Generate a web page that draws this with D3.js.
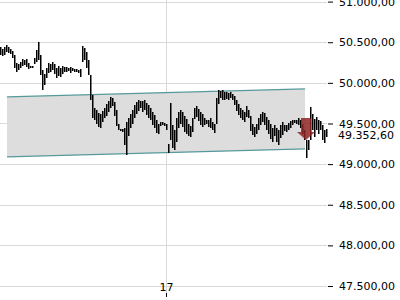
<!DOCTYPE html>
<html>
<head>
<meta charset="utf-8">
<script src="https://cdn.jsdelivr.net/npm/d3@7"></script>
<style>
  body { margin: 0; background: #fff; }
  svg { display: block; font-family: "DejaVu Sans", sans-serif; }
</style>
</head>
<body>
<div id="chart"></div>
<script>
// 10-minute bars, first bar 16.01. 10:10
var barStart = new Date(2024, 0, 16, 10, 10);
var barMinutes = 10;

var highs = [50442,50417,50442,50467,50442,50417,50393,50343,50245,50233,50257,50294,50282,50294,50245,50208,50208,50307,50405,50503,
  50343,50159,50110,50184,50245,50233,50257,50233,50184,50208,50184,50208,50196,50196,50184,50196,50184,50171,50171,50159,
  50171,50454,50430,50380,50282,50097,49851,49692,49667,49630,49618,49655,49692,49741,49778,49827,49815,49765,49667,49495,
  49433,49433,49446,49519,49569,49618,49667,49728,49765,49790,49778,49778,49790,49753,49728,49692,49642,49605,49544,49495,
  49519,49519,49507,49495,49249,49753,49482,49421,49569,49642,49667,49642,49593,49556,49495,49470,49569,49692,49716,49679,
  49642,49618,49569,49544,49544,49569,49519,49495,49815,49913,49901,49913,49888,49888,49876,49888,49864,49839,49790,49741,
  49692,49667,49642,49716,49667,49593,49495,49458,49495,49569,49618,49642,49630,49581,49544,49495,49446,49482,49446,49421,
  49482,49519,49482,49482,49507,49532,49544,49544,49544,49569,49544,49495,49421,49298,49298,49704,49618,49556,49581,49544,
  49532,49482,49421,49433];
var lows = [50343,50331,50343,50380,50368,50356,50307,50184,50134,50159,50184,50208,50220,50196,50171,50184,50184,50233,50257,50282,
  50097,49913,49974,50061,50122,50134,50159,50110,50061,50085,50073,50110,50134,50134,50147,50122,50147,50134,50134,50122,
  50073,50257,50282,50184,50097,49790,49569,49544,49495,49458,49446,49519,49569,49593,49642,49692,49716,49593,49470,49421,
  49409,49396,49236,49113,49347,49446,49495,49569,49618,49655,49692,49642,49667,49605,49569,49544,49482,49446,49384,49372,
  49470,49482,49470,49421,49138,49298,49200,49175,49273,49446,49495,49458,49396,49372,49347,49335,49396,49556,49581,49532,
  49482,49458,49482,49495,49458,49446,49421,49384,49495,49741,49815,49790,49790,49802,49790,49815,49790,49728,49655,49605,
  49569,49544,49519,49581,49569,49409,49359,49335,49372,49421,49482,49519,49482,49421,49372,49310,49273,49347,49273,49236,
  49323,49359,49409,49396,49421,49446,49482,49507,49495,49482,49446,49372,49298,49077,49175,49298,49421,49335,49421,49372,
  49421,49298,49261,49335];

// trend channel: start / end bar index, upper and lower values
var channelIdx = [3.5, 152.5];
var channelTop = [49827, 49925];
var channelBottom = [49089, 49187];

// sell signal
var signalIdx = 153;
var signalValue = 49298;

var lastPrice = 49352.60;
var yTicks = [47500, 48000, 48500, 49000, 49500, 50000, 50500, 51000];
var xTickDates = [new Date(2024, 0, 17)];

var W = 400, H = 300;
var plotRight = 327, axisY = 293;

function barTime(i) { return new Date(barStart.getTime() + i * barMinutes * 60000); }

var x = d3.scaleTime()
  .domain([barTime(0), barTime(highs.length - 0.5)])
  .range([0, plotRight]);
var y = d3.scaleLinear().domain([47500, 51000]).range([286, 1.6]);

var de = d3.formatLocale({ decimal: ",", thousands: ".", grouping: [3], currency: ["", "€"] });
var fmt = de.format(",.2f");

var svg = d3.select("#chart").append("svg").attr("width", W).attr("height", H);

// grid
svg.append("g").selectAll("line").data(yTicks).enter().append("line")
  .attr("x1", 0).attr("x2", plotRight)
  .attr("y1", function (d) { return Math.round(y(d)) + 0.5; })
  .attr("y2", function (d) { return Math.round(y(d)) + 0.5; })
  .attr("stroke", "#d9d9d9");
svg.append("g").selectAll("line").data(xTickDates).enter().append("line")
  .attr("x1", function (d) { return Math.round(x(d)) + 0.5; })
  .attr("x2", function (d) { return Math.round(x(d)) + 0.5; })
  .attr("y1", 0).attr("y2", axisY)
  .attr("stroke", "#d9d9d9");

// channel
var chan = channelIdx.map(function (d, i) {
  return { t: barTime(d), top: channelTop[i], bottom: channelBottom[i] };
});
svg.append("path").datum(chan)
  .attr("fill", "#dddddd")
  .attr("d", d3.area()
    .x(function (d) { return x(d.t); })
    .y0(function (d) { return y(d.bottom); })
    .y1(function (d) { return y(d.top); }));
["top", "bottom"].forEach(function (k) {
  svg.append("path").datum(chan)
    .attr("fill", "none").attr("stroke", "#55999b").attr("stroke-width", 1.2)
    .attr("d", d3.line().x(function (d) { return x(d.t); }).y(function (d) { return y(d[k]); }));
});

// price bars (high-low)
svg.append("g")
  .selectAll("line").data(highs).enter().append("line")
  .attr("x1", function (d, i) { return Math.round(x(barTime(i))) + 0.75; })
  .attr("x2", function (d, i) { return Math.round(x(barTime(i))) + 0.75; })
  .attr("y1", function (d) { return Math.round(y(d)); })
  .attr("y2", function (d, i) { return Math.round(y(lows[i])); })
  .attr("stroke", "#000").attr("stroke-width", 1.5);

// sell arrow
var ax = x(barTime(signalIdx)), ay = y(signalValue);
svg.append("path")
  .attr("transform", "translate(" + ax + "," + ay + ")")
  .attr("d", "M-5,-22 L5,-22 L5,-8 L9,-8 L0,0 L-9,-8 L-5,-8 Z")
  .attr("fill", "#8e2424").attr("fill-opacity", 0.85);

// y axis on the right
var yAxis = d3.axisRight(y).tickValues(yTicks).tickSize(5).tickPadding(6).tickFormat(fmt);
var gy = svg.append("g").attr("transform", "translate(" + (plotRight + 1) + ",0)").call(yAxis);
gy.select(".domain").remove();
gy.selectAll("text").attr("font-size", 11).attr("font-family", "DejaVu Sans").attr("fill", "#000");

svg.append("text")
  .attr("x", plotRight + 11).attr("y", y(lastPrice)).attr("dy", "0.35em")
  .attr("font-size", 11).text(fmt(lastPrice));

// x axis
var xAxis = d3.axisBottom(x).tickValues(xTickDates).tickSize(4).tickFormat(d3.timeFormat("%d"));
var gx = svg.append("g").attr("transform", "translate(0," + axisY + ")").call(xAxis);
gx.select(".domain").remove();
gx.selectAll("text").attr("font-size", 11).attr("font-family", "DejaVu Sans")
  .attr("y", -2).attr("dy", 0).attr("fill", "#000");
</script>
</body>
</html>
